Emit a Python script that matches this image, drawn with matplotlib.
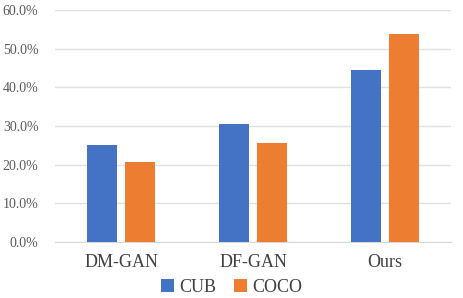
import numpy as np
import matplotlib
matplotlib.use("Agg")
import matplotlib.pyplot as plt
from matplotlib.ticker import PercentFormatter

methods = ["DM-GAN", "DF-GAN", "Ours"]
cub = [25.0, 30.5, 44.4]
coco = [20.8, 25.6, 53.8]

plt.rcParams['font.family'] = ['Liberation Serif', 'DejaVu Serif']

fig = plt.figure(figsize=(4.63, 2.98), dpi=100)
ax = fig.add_axes([0.119, 0.188, 0.855, 0.778])

x = np.arange(len(methods))
w = 0.227
gap = 0.058
ax.bar(x - (w + gap) / 2, cub, w, color="#4472c4", label="CUB", zorder=3)
ax.bar(x + (w + gap) / 2, coco, w, color="#ed7d31", label="COCO", zorder=3)

ax.set_xlim(-0.5, 2.5)
ax.set_ylim(0, 60)
ax.set_yticks(np.arange(0, 61, 10))
ax.yaxis.set_major_formatter(PercentFormatter(decimals=1))
ax.set_xticks(x)
ax.set_xticklabels(methods, fontsize=13, color="#404040")
ax.tick_params(axis="y", labelsize=10, colors="#595959", length=0, pad=12)
ax.tick_params(axis="x", length=0, pad=9)

ax.grid(axis="y", color="#e0e0e0", linewidth=1, zorder=0)
for s in ["top", "right", "left"]:
    ax.spines[s].set_visible(False)
ax.spines["bottom"].set_color("#d9d9d9")

fig.legend(loc="center", bbox_to_anchor=(0.5, 0.035), ncol=2, frameon=False,
           fontsize=13, handlelength=0.7, handleheight=0.7, handletextpad=0.3,
           columnspacing=1.0, labelcolor="#404040")

fig.savefig("out.png", dpi=100)
